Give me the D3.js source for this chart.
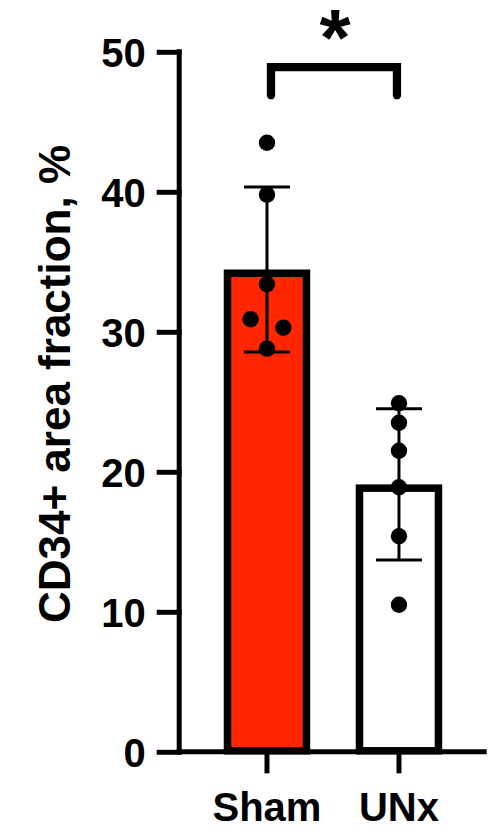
<!DOCTYPE html>
<html>
<head>
<meta charset="utf-8">
<script src="https://cdn.jsdelivr.net/npm/d3@7"></script>
<style>
  html, body { margin: 0; padding: 0; background: #fff; }
  svg { display: block; }
  text { font-family: "Liberation Sans", Arial, sans-serif; font-weight: bold; fill: #000; }
</style>
</head>
<body>
<svg id="chart" width="489" height="831"></svg>
<script>
// Groups and summary statistics (mean ± SD)
const groups = ["Sham", "UNx"];
const means = [34.45, 19.1];
const sds = [5.9, 5.4];

// Individual measurements per group
const shamValues = [43.5, 39.8, 33.4, 30.9, 30.3, 28.8];
const unxValues = [24.9, 23.5, 21.5, 18.9, 15.4, 10.5];
// Horizontal spread of overlapping dots, in dot radii
const shamSpread = [0, 0, 0, -2, 2, 0];
const unxSpread = [0, 0, 0, 0, 0, 0];

const yTicks = [0, 10, 20, 30, 40, 50];
const yLabel = "CD34+ area fraction, %";
const sigLabel = "*";

const barColors = ["#ff2600", "#ffffff"];

const svg = d3.select("#chart");
const axisW = 5;
const barStroke = 7.5;
const dotR = 8.2;

const y = d3.scaleLinear().domain([0, 50]).range([751.8, 51.8]);
const x = d3.scaleBand().domain(groups).range([197.35, 468.6])
  .paddingInner(0.345).paddingOuter(0.2);
const cx = g => x(g) + x.bandwidth() / 2;

// Bars (stroke drawn inside the bar outline)
svg.append("g").selectAll("rect").data(groups).join("rect")
  .attr("x", g => x(g) + barStroke / 2)
  .attr("width", x.bandwidth() - barStroke)
  .attr("y", (g, i) => y(means[i]) + barStroke / 2)
  .attr("height", (g, i) => y(0) - 1 - y(means[i]) - barStroke / 2)
  .attr("fill", (g, i) => barColors[i])
  .attr("stroke", "#000")
  .attr("stroke-width", barStroke);

// Y axis
const yAxis = svg.append("g")
  .attr("transform", `translate(179.2,0)`)
  .call(d3.axisLeft(y).tickValues(yTicks).tickSize(22.5).tickSizeOuter(0).tickPadding(11));
yAxis.select(".domain").remove();
yAxis.selectAll(".tick line").attr("stroke", "#000").attr("stroke-width", axisW).attr("x2", -22.5).attr("x1", axisW / 2);
yAxis.selectAll(".tick text").attr("font-size", 40).attr("dy", "0.36em").attr("x", -33.5);
yAxis.append("line")
  .attr("x1", 0).attr("x2", 0)
  .attr("y1", y(50) - axisW / 2).attr("y2", y(0) + axisW / 2)
  .attr("stroke", "#000").attr("stroke-width", axisW);

// X axis
const xAxis = svg.append("g")
  .attr("transform", `translate(0,${y(0)})`)
  .call(d3.axisBottom(x).tickSize(21.5).tickSizeOuter(0).tickPadding(19));
xAxis.select(".domain").remove();
xAxis.selectAll(".tick line").attr("stroke", "#000").attr("stroke-width", axisW);
xAxis.selectAll(".tick text").attr("font-size", 40).attr("dy", "0.71em");
xAxis.append("line")
  .attr("x1", 179.2 - axisW / 2).attr("x2", 486.7)
  .attr("y1", 0).attr("y2", 0)
  .attr("stroke", "#000").attr("stroke-width", axisW);

// Error bars (mean ± SD)
const capHalf = 23;
const eb = svg.append("g").attr("stroke", "#000").attr("stroke-width", 3);
groups.forEach((g, i) => {
  const c = cx(g);
  eb.append("line").attr("x1", c).attr("x2", c)
    .attr("y1", y(means[i] + sds[i])).attr("y2", y(means[i] - sds[i]));
  [means[i] + sds[i], means[i] - sds[i]].forEach(v => {
    eb.append("line").attr("x1", c - capHalf).attr("x2", c + capHalf)
      .attr("y1", y(v)).attr("y2", y(v));
  });
});

// Individual data points
const pts = [
  ...shamValues.map((v, i) => ({ g: "Sham", v, s: shamSpread[i] })),
  ...unxValues.map((v, i) => ({ g: "UNx", v, s: unxSpread[i] }))
];
svg.append("g").selectAll("circle").data(pts).join("circle")
  .attr("cx", d => cx(d.g) + d.s * dotR)
  .attr("cy", d => y(d.v))
  .attr("r", dotR)
  .attr("fill", "#000");

// Significance bracket
const bx1 = cx("Sham") + 4, bx2 = cx("UNx") - 2;
const bTop = y(48.9), bLeg = y(46.9);
svg.append("path")
  .attr("d", `M${bx1},${bLeg}V${bTop}H${bx2}V${bLeg}`)
  .attr("fill", "none").attr("stroke", "#000").attr("stroke-width", 8.3)
  .attr("stroke-linecap", "round").attr("stroke-linejoin", "miter");
svg.append("text")
  .attr("x", (bx1 + bx2) / 2 + 1).attr("y", 65)
  .attr("text-anchor", "middle").attr("font-size", 80)
  .text(sigLabel);

// Y axis title
svg.append("text")
  .attr("transform", "translate(70,384) rotate(-90)")
  .attr("text-anchor", "middle").attr("font-size", 44)
  .text(yLabel);
</script>
</body>
</html>
